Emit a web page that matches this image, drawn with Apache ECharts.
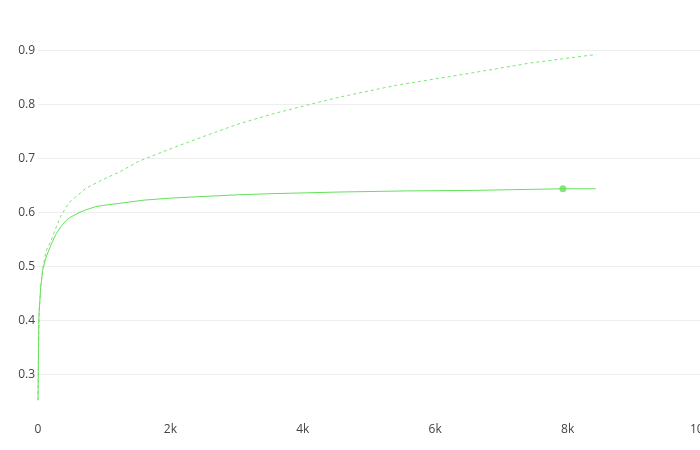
<!DOCTYPE html>
<html>
<head>
<meta charset="utf-8">
<script src="https://cdn.jsdelivr.net/npm/echarts@6/dist/echarts.min.js"></script>
<style>html,body{margin:0;padding:0;background:#fff;}#c{width:700px;height:450px;}</style>
</head>
<body>
<div id="c"></div>
<script>
const solidX = [0, 8, 15, 40, 71, 121, 196, 272, 347, 423, 472, 623, 725, 875, 977, 1227, 1604, 2042, 2546, 3049, 3552, 4558, 5565, 6570, 7929, 8423];
const solidY = [0.252, 0.35, 0.41, 0.46, 0.493, 0.517, 0.540, 0.560, 0.574, 0.585, 0.590, 0.600, 0.605, 0.611, 0.613, 0.617, 0.623, 0.627, 0.630, 0.633, 0.635, 0.638, 0.640, 0.641, 0.644, 0.644];
const dashX = [0, 8, 15, 40, 71, 121, 196, 272, 347, 472, 725, 977, 1227, 1540, 2042, 2546, 3049, 3552, 4056, 4558, 5414, 6420, 7426, 8433];
const dashY = [0.252, 0.35, 0.41, 0.46, 0.495, 0.529, 0.547, 0.572, 0.594, 0.619, 0.645, 0.661, 0.675, 0.696, 0.720, 0.743, 0.765, 0.783, 0.799, 0.814, 0.836, 0.856, 0.877, 0.893];
const markerX = [7929];
const markerY = [0.644];
const yTicks = [0.3, 0.4, 0.5, 0.6, 0.7, 0.8, 0.9];
const xTickLabel = v => v === 0 ? '0' : (v / 1000) + 'k';

const green = 'rgb(99,226,90)';
const chart = echarts.init(document.getElementById('c'), null, {renderer: 'canvas'});
chart.setOption({
  animation: false,
  backgroundColor: '#fff',
  grid: {left: 38, right: 0, top: 34.5, bottom: 37.9, containLabel: false, outerBoundsMode: 'none'},
  xAxis: {
    type: 'value', min: 0, max: 10000, interval: 2000,
    axisLine: {show: false}, axisTick: {show: false}, splitLine: {show: false},
    axisLabel: {formatter: xTickLabel, color: '#444', fontFamily: 'Open Sans', fontSize: 12, margin: 11, hideOverlap: false}
  },
  yAxis: {
    type: 'value', min: 0.23, max: 0.93,
    axisLine: {show: false},
    axisTick: {show: false, customValues: yTicks},
    splitLine: {show: true, lineStyle: {color: '#eee', width: 1}},
    axisLabel: {customValues: yTicks, formatter: v => v.toFixed(1), color: '#444', fontFamily: 'Open Sans', fontSize: 12, margin: 3}
  },
  series: [
    {type: 'line', data: solidX.map((x, i) => [x, solidY[i]]), showSymbol: false, symbol: 'none',
     lineStyle: {color: green, width: 1}, z: 3},
    {type: 'line', data: dashX.map((x, i) => [x, dashY[i]]), showSymbol: false, symbol: 'none',
     lineStyle: {color: green, width: 1, type: [3, 3], opacity: 0.85}, z: 2},
    {type: 'scatter', data: markerX.map((x, i) => [x, markerY[i]]), symbolSize: 7,
     itemStyle: {color: green}, z: 4}
  ]
});
</script>
</body>
</html>
